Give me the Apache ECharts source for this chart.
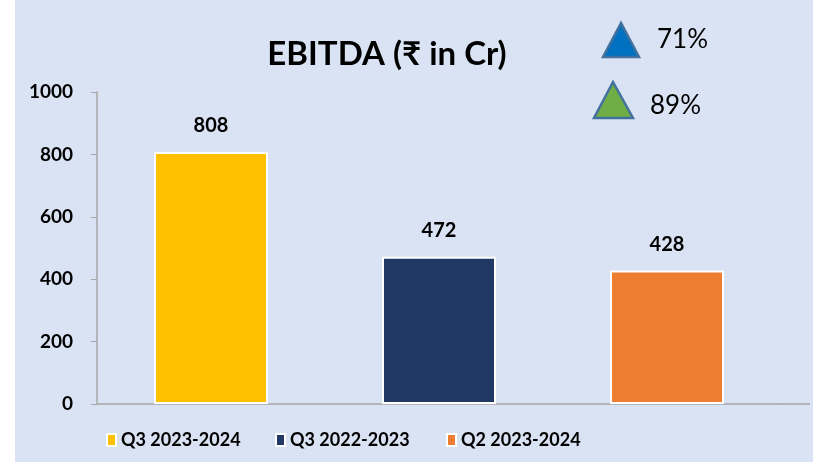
<!DOCTYPE html>
<html lang="en">
<head>
    <meta http-equiv="Content-Type" content="text/html;charset=utf-8">
    <script type="text/javascript" src="https://cdn.jsdelivr.net/npm/echarts@6/dist/echarts.min.js"></script>
    <title>EBITDA</title>
    <style>
        html, body { margin: 0; padding: 0; background: #fff; }
        #main { position: absolute; left: 15px; top: 0; width: 798px; height: 462px; background: #DAE3F3; }
    </style>
</head>
<body>
<div id="main"></div>
<script>
    var categories = ['Q3 2023-2024', 'Q3 2022-2023', 'Q2 2023-2024'];
    var values = [808, 472, 428];
    var colors = ['#FFC000', '#203864', '#ED7D31'];
    var yTicks = [0, 200, 400, 600, 800, 1000];
    var growth = ['71%', '89%'];

    var font = 'Lato, "Open Sans", "Noto Sans", sans-serif';
    var legendLeft = [86, 255, 426];

    function draw() {
        var myChart = echarts.init(document.getElementById('main'));

        // one series per quarter so the legend gets one item each
        var series = categories.map(function (name, i) {
            var data = categories.map(function (c, j) {
                return j === i ? values[j] : '-';
            });
            return {
                name: name,
                type: 'bar',
                stack: 'q',
                barWidth: '50%',
                data: data,
                itemStyle: { color: colors[i], borderColor: '#fff', borderWidth: 2 },
                label: {
                    show: true,
                    position: 'top',
                    distance: 16,
                    color: '#000',
                    fontFamily: font,
                    fontWeight: 'bold',
                    fontSize: 20
                }
            };
        });

        var legends = categories.map(function (name, i) {
            return {
                top: 426,
                left: legendLeft[i],
                itemWidth: 9,
                itemHeight: 12,
                itemGap: 0,
                icon: 'rect',
                textStyle: { fontFamily: font, fontWeight: 'bold', fontSize: 18, color: '#000' },
                data: [name]
            };
        });

        var option = {
            color: colors,
            animation: false,
            title: {
                text: 'EBITDA (₹ in Cr)',
                left: 367,
                top: 33,
                textAlign: 'center',
                textStyle: { fontFamily: font, fontWeight: 'bold', fontSize: 33, color: '#000' }
            },
            grid: { left: 82, right: 32, top: 92, bottom: 58 },
            legend: legends,
            xAxis: {
                type: 'category',
                data: categories,
                axisLabel: { show: false },
                axisTick: { show: false },
                axisLine: { lineStyle: { color: '#A6A6A6', width: 1.5 } }
            },
            yAxis: {
                type: 'value',
                min: yTicks[0],
                max: yTicks[yTicks.length - 1],
                interval: yTicks[1] - yTicks[0],
                splitLine: { show: false },
                axisLine: { show: true, lineStyle: { color: '#A6A6A6', width: 1.5 } },
                axisTick: { show: true, length: 6, lineStyle: { color: '#A6A6A6' } },
                axisLabel: {
                    margin: 24,
                    color: '#000',
                    fontFamily: font,
                    fontWeight: 'bold',
                    fontSize: 19,
                    formatter: function (v) { return String(v); }
                }
            },
            graphic: [
                // axis line runs on a little past the last category
                {
                    type: 'line',
                    shape: { x1: 766, y1: 404, x2: 795, y2: 404 },
                    style: { stroke: '#A6A6A6', lineWidth: 1.5 }
                },
                {
                    type: 'polygon',
                    shape: { points: [[606, 23], [588, 57], [624, 57]] },
                    style: { fill: '#0070C0', stroke: '#41719C', lineWidth: 2.5 }
                },
                {
                    type: 'text', left: 642, top: 27,
                    style: { text: growth[0], fill: '#000', font: '26px ' + font }
                },
                {
                    type: 'polygon',
                    shape: { points: [[598, 82], [579, 118], [618, 118]] },
                    style: { fill: '#70AD47', stroke: '#41719C', lineWidth: 2.5 }
                },
                {
                    type: 'text', left: 635, top: 93,
                    style: { text: growth[1], fill: '#000', font: '26px ' + font }
                }
            ],
            series: series
        };
        myChart.setOption(option);
    }

    draw();
</script>
</body>
</html>
